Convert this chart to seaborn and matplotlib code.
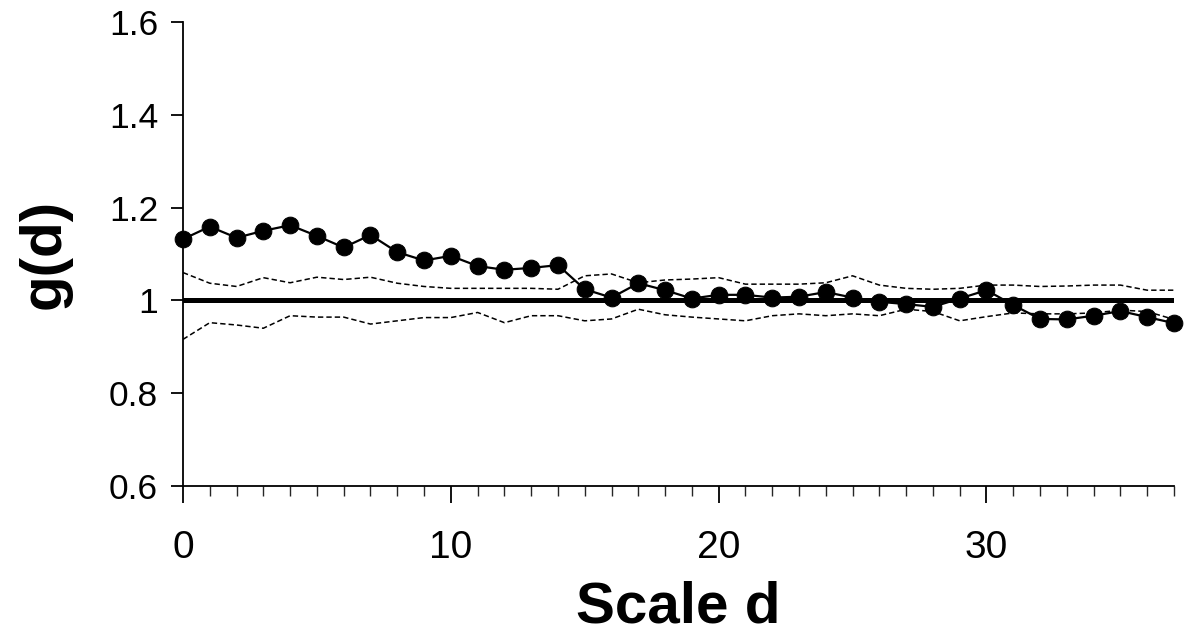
import numpy as np
import pandas as pd
import matplotlib
matplotlib.use("Agg")
import matplotlib.pyplot as plt
import seaborn as sns
from matplotlib.ticker import MultipleLocator

# Values
scale_d = list(range(0, 38))
g_obs = [1.132, 1.159, 1.135, 1.150, 1.162, 1.139, 1.114, 1.141, 1.104, 1.086,
         1.096, 1.074, 1.066, 1.070, 1.076, 1.024, 1.006, 1.037, 1.022, 1.004,
         1.012, 1.012, 1.006, 1.008, 1.018, 1.006, 0.997, 0.992, 0.986, 1.004,
         1.022, 0.990, 0.960, 0.959, 0.967, 0.977, 0.964, 0.951]
upper_env = [1.060, 1.037, 1.030, 1.049, 1.038, 1.050, 1.045, 1.050, 1.037, 1.030,
             1.026, 1.026, 1.026, 1.026, 1.024, 1.053, 1.057, 1.038, 1.044, 1.046,
             1.049, 1.035, 1.035, 1.035, 1.038, 1.053, 1.033, 1.026, 1.024, 1.026,
             1.033, 1.033, 1.030, 1.031, 1.033, 1.033, 1.022, 1.022]
lower_env = [0.916, 0.952, 0.947, 0.940, 0.967, 0.964, 0.964, 0.949, 0.956, 0.963,
             0.963, 0.974, 0.952, 0.967, 0.967, 0.956, 0.960, 0.981, 0.969, 0.964,
             0.960, 0.956, 0.967, 0.971, 0.967, 0.971, 0.967, 0.981, 0.976, 0.956,
             0.965, 0.973, 0.971, 0.971, 0.973, 0.979, 0.976, 0.959]
expected = [1.0] * len(scale_d)

df = pd.DataFrame({"d": scale_d, "g": g_obs, "upper": upper_env,
                   "lower": lower_env, "expected": expected})

sns.set_style("ticks")
plt.rcParams["font.family"] = ["Liberation Sans", "DejaVu Sans"]

fig = plt.figure(figsize=(12, 6.41), dpi=100)
ax = fig.add_axes([0.1525, 0.2418, 0.8258, 0.7239])

# Null expectation line
sns.lineplot(data=df, x="d", y="expected", color="black", linewidth=3.6, ax=ax)
# Confidence envelope
sns.lineplot(data=df, x="d", y="upper", color="black", linewidth=1.1,
             linestyle=(0, (3.5, 2)), ax=ax)
sns.lineplot(data=df, x="d", y="lower", color="black", linewidth=1.1,
             linestyle=(0, (3.5, 2)), ax=ax)
# Observed g(d)
sns.lineplot(data=df, x="d", y="g", color="black", linewidth=1.6,
             marker="o", markersize=12, markeredgecolor="black", ax=ax,
             clip_on=False)

ax.set_xlim(0, 37)
ax.set_ylim(0.6, 1.6)
ax.yaxis.set_major_locator(MultipleLocator(0.2))
ax.xaxis.set_major_locator(MultipleLocator(10))
ax.xaxis.set_minor_locator(MultipleLocator(1))
ax.yaxis.set_major_formatter(plt.FuncFormatter(lambda v, p: f"{v:g}"))

sns.despine(ax=ax)
for s in ["left", "bottom"]:
    ax.spines[s].set_linewidth(1.3)
    ax.spines[s].set_color("black")

ax.tick_params(axis="y", which="major", direction="out", length=9, width=1.3,
               labelsize=25.5, pad=9, colors="black", labelcolor="black")
ax.tick_params(axis="x", which="major", direction="out", length=12, width=1.3,
               labelsize=28, pad=20, colors="black", labelcolor="black")
ax.tick_params(axis="x", which="minor", direction="out", length=7, width=1.0)

ax.set_xlabel("Scale d", fontsize=42, fontweight="bold", labelpad=10,
              color="black")
ax.set_ylabel("g(d)", fontsize=42, fontweight="bold", labelpad=27,
              color="black")

fig.savefig("out.png", dpi=100)
